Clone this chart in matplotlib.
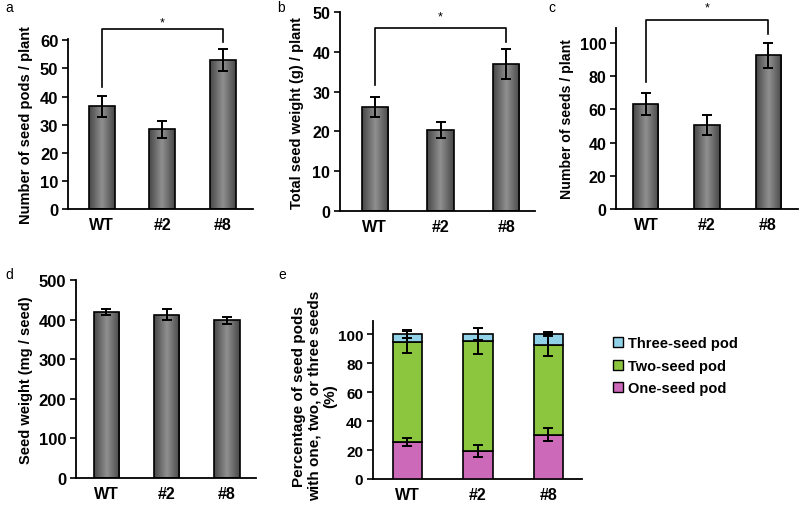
import matplotlib.pyplot as plt
from matplotlib.patches import Patch
from matplotlib.colors import LinearSegmentedColormap
import numpy as np

plt.rcParams['font.family'] = 'Liberation Sans'
plt.rcParams['font.weight'] = 'bold'

lines = ['WT', '#2', '#8']

# a: seed pods per plant
pods = [36.5, 28.3, 53.0]
pods_err = [3.7, 3.0, 3.8]
# b: total seed weight per plant
weight = [26.2, 20.3, 37.0]
weight_err = [2.5, 2.0, 3.7]
# c: seeds per plant
seeds = [63.0, 50.5, 92.5]
seeds_err = [6.5, 6.0, 7.5]
# d: seed weight
seed_w = [420, 413, 398]
seed_w_err = [7, 13, 10]
# e: pod composition (%)
one_seed = [25.3, 19.5, 30.6]
one_err = [2.7, 4.0, 4.3]
two_seed = [69.4, 75.9, 62.0]
two_err = [8.0, 9.0, 7.5]
three_seed = [5.3, 4.6, 7.4]
three_err = [2.5, 4.0, 1.5]

PINK = '#CC69B9'
GREEN = '#8CC63F'
BLUE = '#92D2E8'

shade = LinearSegmentedColormap.from_list('shade', ['#484848', '#909090', '#484848'])
grad = np.linspace(0, 1, 64).reshape(1, -1)

fig = plt.figure(figsize=(8, 5.06), dpi=100)


def style(ax, ylim, yticks, xlim, fs=11.5):
    ax.set_xlim(*xlim)
    ax.set_ylim(*ylim)
    ax.set_yticks(yticks)
    ax.set_xticks(range(len(lines)))
    ax.set_xticklabels(lines, fontsize=11.5, fontweight='bold')
    ax.tick_params(axis='x', length=0, pad=6)
    ax.tick_params(axis='y', length=4, width=1.2, labelsize=fs, pad=3)
    for lab in ax.get_yticklabels():
        lab.set_fontweight('bold')
    ax.spines['top'].set_visible(False)
    ax.spines['right'].set_visible(False)
    ax.spines['left'].set_linewidth(1.3)
    ax.spines['bottom'].set_linewidth(1.3)


def shaded_bars(ax, vals, errs, width):
    x = np.arange(len(vals))
    bars = ax.bar(x, vals, width=width, color='none', edgecolor='black', linewidth=1.2, zorder=3)
    for b in bars:
        x0, y0 = b.get_x(), b.get_y()
        im = ax.imshow(grad, cmap=shade, aspect='auto', zorder=2,
                       extent=(x0, x0 + b.get_width(), y0, y0 + b.get_height()))
        im.set_clip_path(b)
    ax.errorbar(x, vals, yerr=errs, fmt='none', ecolor='black', elinewidth=1.4,
                capsize=3.5, capthick=1.4, zorder=4)
    return x


def bracket(ax, i, j, y_left, y_right, y_top, y_star):
    ax.plot([i, i, j, j], [y_left, y_top, y_top, y_right], color='black', lw=1.2,
            clip_on=False, zorder=5)
    ax.text((i + j) / 2, y_star, '*', ha='center', va='center', fontsize=9,
            fontweight='normal', clip_on=False)


# panel a
ax_a = fig.add_axes([0.085, 0.585, 0.231, 0.336])
shaded_bars(ax_a, pods, pods_err, 0.43)
style(ax_a, (0, 60.5), range(0, 61, 10), (-0.56, 2.5), fs=12)
ax_a.set_ylabel('Number of seed pods / plant', fontsize=10.5, fontweight='bold', labelpad=5)
bracket(ax_a, 0, 2, 43.5, 59.5, 64, 66.5)

# panel b
ax_b = fig.add_axes([0.425, 0.581, 0.244, 0.393])
shaded_bars(ax_b, weight, weight_err, 0.40)
style(ax_b, (0, 50), range(0, 51, 10), (-0.53, 2.44))
ax_b.set_ylabel('Total seed weight (g) / plant', fontsize=10.5, fontweight='bold', labelpad=6)
bracket(ax_b, 0, 2, 31.7, 42.5, 46, 49)

# panel c
ax_c = fig.add_axes([0.77, 0.585, 0.2275, 0.358])
shaded_bars(ax_c, seeds, seeds_err, 0.41)
style(ax_c, (0, 109), range(0, 101, 20), (-0.49, 2.49))
ax_c.set_ylabel('Number of seeds / plant', fontsize=10.2, fontweight='bold', labelpad=4)
bracket(ax_c, 0, 2, 76.5, 105.5, 114, 121.5)

# panel d
ax_d = fig.add_axes([0.095, 0.0534, 0.225, 0.391])
shaded_bars(ax_d, seed_w, seed_w_err, 0.42)
style(ax_d, (0, 500), range(0, 501, 100), (-0.5, 2.48), fs=12)
ax_d.set_ylabel('Seed weight (mg / seed)', fontsize=10.5, fontweight='bold', labelpad=4)

# panel e
ax_e = fig.add_axes([0.466, 0.0514, 0.261, 0.312])
x = np.arange(len(lines))
w = 0.42
bottom2 = np.array(one_seed)
bottom3 = bottom2 + np.array(two_seed)
ax_e.bar(x, one_seed, width=w, color=PINK, edgecolor='black', linewidth=1.2, zorder=3)
ax_e.bar(x, two_seed, width=w, bottom=bottom2, color=GREEN, edgecolor='black', linewidth=1.2, zorder=3)
ax_e.bar(x, three_seed, width=w, bottom=bottom3, color=BLUE, edgecolor='black', linewidth=1.2, zorder=3)
ax_e.errorbar(x, bottom2, yerr=one_err, fmt='none', ecolor='black', elinewidth=1.4,
              capsize=3.5, capthick=1.4, zorder=4)
ax_e.errorbar(x, bottom3, yerr=two_err, fmt='none', ecolor='black', elinewidth=1.4,
              capsize=3.5, capthick=1.4, zorder=4)
ax_e.errorbar(x, bottom3 + np.array(three_seed), yerr=three_err, fmt='none', ecolor='black',
              elinewidth=1.4, capsize=3.5, capthick=1.4, zorder=4)
style(ax_e, (0, 109), range(0, 101, 20), (-0.49, 2.47), fs=11)
ax_e.set_ylabel('Percentage of seed pods\nwith one, two, or three seeds\n(%)',
                fontsize=11, fontweight='bold', labelpad=2, linespacing=1.15)
ax_e.yaxis.set_label_coords(-0.17, 0.53)

legend_elements = [
    Patch(facecolor=BLUE, edgecolor='black', label='Three-seed pod'),
    Patch(facecolor=GREEN, edgecolor='black', label='Two-seed pod'),
    Patch(facecolor=PINK, edgecolor='black', label='One-seed pod')]
fig.legend(handles=legend_elements, loc='upper left', bbox_to_anchor=(0.75, 0.36),
           frameon=False, handlelength=0.7, handleheight=0.7, handletextpad=0.3,
           labelspacing=0.6, prop={'size': 10.5, 'weight': 'bold'})

# panel letters
for lab, px, py in [('a', 5, 8), ('b', 277, 8), ('c', 548, 8), ('d', 5, 275), ('e', 278, 275)]:
    fig.text(px / 800, 1 - py / 506, lab, fontsize=10, fontweight='normal', va='center', ha='left')

fig.savefig('out.png', dpi=100)
